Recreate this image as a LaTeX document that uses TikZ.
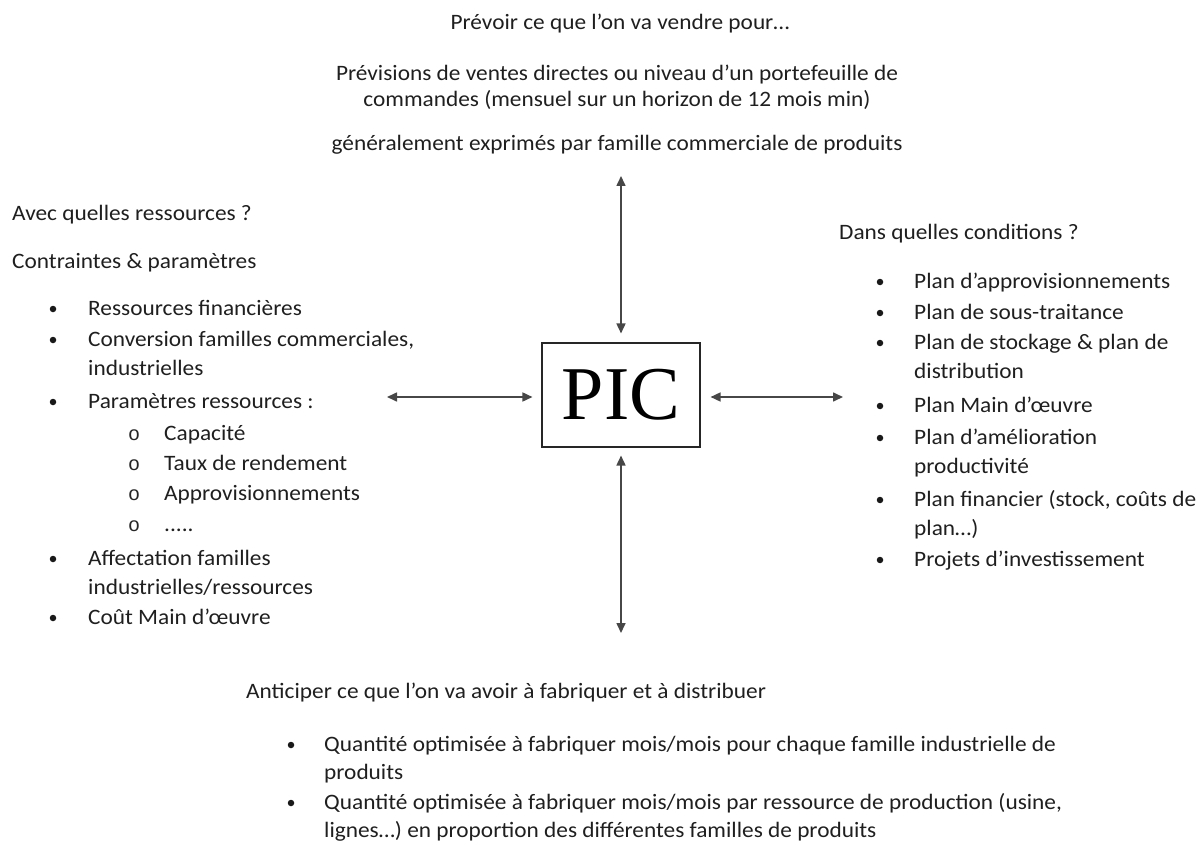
\documentclass[tikz,border=0pt]{standalone}
\usepackage{fontspec}
\setmainfont{Carlito}[FakeStretch=1.06]
\newfontfamily\picfont{Liberation Serif}
\newfontfamily\subfont{Liberation Mono}
\usetikzlibrary{arrows.meta}

\begin{document}
\begin{tikzpicture}[x=1pt,y=-1pt,
  txt/.style={anchor=base west, inner sep=0pt, font=\fontsize{22}{29}\selectfont, text=black!88},
  ctxt/.style={txt, anchor=base},
  dot/.style={circle, fill=black!90, inner sep=0pt, minimum size=6.5pt},
  subdot/.style={anchor=base, inner sep=0pt, font=\subfont\fontsize{20}{20}\selectfont, text=black!85},
  picbox/.style={draw=black!85, line width=1.1pt, minimum width=158pt, minimum height=104pt,
                 inner sep=0pt, font=\picfont\fontsize{76}{76}\selectfont},
  link/.style={draw=black!72, line width=1.6pt,
               {Triangle[length=10pt,width=9pt]}-{Triangle[length=10pt,width=9pt]}},
]
\useasboundingbox (0,0) rectangle (1204,845);

% central block
\node[picbox] (pic) at (621,395) {PIC};

% free ends of the four links
\coordinate (topend) at (621,176);
\coordinate (botend) at (621,633);
\coordinate (leftend) at (387,397);
\coordinate (rightend) at (843,397);

\draw[link, shorten >=9pt] (topend) -- (pic.north);
\draw[link, shorten <=8pt] (pic.south) -- (botend);
\draw[link, shorten >=9pt] (leftend) -- (pic.west |- leftend);
\draw[link, shorten <=10pt] (pic.east |- rightend) -- (rightend);

% top: demand forecast
\node[ctxt] (t1) at (620,30) {Prévoir ce que l’on va vendre pour…};
\node[ctxt] (t2) at (617,81) {Prévisions de ventes directes ou niveau d’un portefeuille de};
\node[ctxt] (t3) at (617,107) {commandes (mensuel sur un horizon de 12 mois min)};
\node[ctxt] (t4) at (617,151) {généralement exprimés par famille commerciale de produits};

% left: resources and constraints
\node[txt] (l0) at (12,221) {Avec quelles ressources ?};
\node[txt] (l00) at (12,268) {Contraintes \& paramètres};
\node[dot] (lb1) at (53,309) {};
\node[txt] (l1) at (88,315) {Ressources financières};
\node[dot] (lb2) at (53,340) {};
\node[txt] (l2) at (88,346) {Conversion familles commerciales,};
\node[txt] (l2b) at (88,375) {industrielles};
\node[dot] (lb3) at (53,402) {};
\node[txt] (l3) at (88,408) {Paramètres ressources :};
\node[subdot] (ls1) at (134,440) {o};
\node[txt] (l31) at (164,440) {Capacité};
\node[subdot] (ls2) at (134,470) {o};
\node[txt] (l32) at (164,470) {Taux de rendement};
\node[subdot] (ls3) at (134,500) {o};
\node[txt] (l33) at (164,500) {Approvisionnements};
\node[subdot] (ls4) at (134,531) {o};
\node[txt] (l34) at (164,531) {.....};
\node[dot] (lb4) at (53,559) {};
\node[txt] (l4) at (88,565) {Affectation familles};
\node[txt] (l4b) at (88,594) {industrielles/ressources};
\node[dot] (lb5) at (53,618) {};
\node[txt] (l5) at (88,624) {Coût Main d’œuvre};

% right: operating conditions
\node[txt] (r0) at (839,239) {Dans quelles conditions ?};
\node[dot] (rb1) at (880,282) {};
\node[txt] (r1) at (914,288) {Plan d’approvisionnements};
\node[dot] (rb2) at (880,313) {};
\node[txt] (r2) at (914,319) {Plan de sous-traitance};
\node[dot] (rb3) at (880,343) {};
\node[txt] (r3) at (914,349) {Plan de stockage \& plan de};
\node[txt] (r3b) at (914,378) {distribution};
\node[dot] (rb4) at (880,406) {};
\node[txt] (r4) at (914,412) {Plan Main d’œuvre};
\node[dot] (rb5) at (880,438) {};
\node[txt] (r5) at (914,444) {Plan d’amélioration};
\node[txt] (r5b) at (914,473) {productivité};
\node[dot] (rb6) at (880,500) {};
\node[txt] (r6) at (914,506) {Plan financier (stock, coûts de};
\node[txt] (r6b) at (914,535) {plan…)};
\node[dot] (rb7) at (880,560) {};
\node[txt] (r7) at (914,566) {Projets d’investissement};

% bottom: production outlook
\node[txt] (b0) at (246,698) {Anticiper ce que l’on va avoir à fabriquer et à distribuer};
\node[dot] (bb1) at (291,745) {};
\node[txt] (b1) at (324,751) {Quantité optimisée à fabriquer mois/mois pour chaque famille industrielle de};
\node[txt] (b1b) at (324,779) {produits};
\node[dot] (bb2) at (291,803) {};
\node[txt] (b2) at (324,809) {Quantité optimisée à fabriquer mois/mois par ressource de production (usine,};
\node[txt] (b2b) at (324,837) {lignes…) en proportion des différentes familles de produits};
\end{tikzpicture}
\end{document}
